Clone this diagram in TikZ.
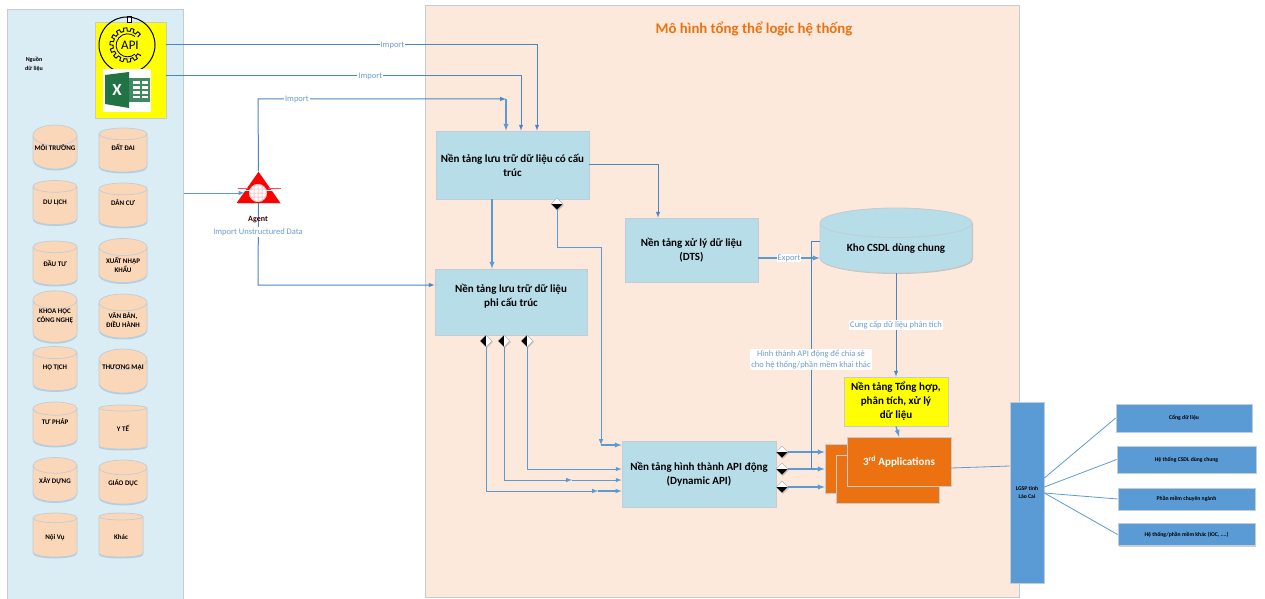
\documentclass[tikz,border=0pt]{standalone}
\usepackage{fontspec}
\setmainfont{Carlito}
\usetikzlibrary{arrows,shapes,shadows}
\newcommand{\lift}[2]{\smash{\raisebox{#1pt}{#2}}}
\definecolor{sourcebg}{HTML}{DAEDF4}
\definecolor{mainbg}{HTML}{FCE9DC}
\definecolor{edgegrey}{HTML}{C3CCD2}
\definecolor{cyan1}{HTML}{B7DDE8}
\definecolor{peach}{HTML}{FBD7BA}
\definecolor{wire}{HTML}{4A86C5}
\definecolor{wirelight}{HTML}{5B9BD5}
\definecolor{labelblue}{HTML}{6C9DD0}
\definecolor{orange1}{HTML}{EC7211}
\definecolor{xlgreen}{HTML}{217346}
\definecolor{hiyellow}{RGB}{255,255,0}
\tikzstyle{every node}=[inner sep=0pt,align=center]
\tikzstyle{shade1}=[drop shadow={shadow xshift=1pt,shadow yshift=-1pt,fill=black,opacity=.18}]
\tikzstyle{panel}=[draw=edgegrey,line width=1pt]
\tikzstyle{box}=[draw=edgegrey,line width=.8pt,fill=cyan1,shade1,font=\fontsize{11}{14}\selectfont\bfseries]
\tikzstyle{dbcyl}=[cylinder,shape border rotate=90,aspect=.5,anchor=shape center,draw=edgegrey,line width=.7pt,fill=peach,
	drop shadow={shadow xshift=0pt,shadow yshift=-1.5pt,fill=wirelight,opacity=.35},
	minimum height=44pt,minimum width=44pt,font=\fontsize{7}{9}\selectfont\bfseries]
\tikzstyle{bluebox}=[draw=edgegrey,line width=.7pt,fill=wirelight,shade1,font=\fontsize{5.7}{8}\selectfont\bfseries]
\tikzstyle{appbox}=[draw=edgegrey,line width=.7pt,fill=orange1,shade1]
\tikzstyle{jointv}=[diamond,draw=black!35,line width=.4pt,fill=white,minimum size=12pt,shade1,
	path picture={\fill[black] (path picture bounding box.west) rectangle (path picture bounding box.south east);}]
\tikzstyle{jointh}=[diamond,draw=black!35,line width=.4pt,fill=white,minimum size=12pt,shade1,
	path picture={\fill[black] (path picture bounding box.north) rectangle (path picture bounding box.south west);}]
\tikzstyle{link}=[draw=wire,line width=1pt]
\tikzstyle{thicklink}=[draw=wirelight,line width=1.3pt]
\tikzstyle{lbl}=[fill=white,inner sep=1pt,text=labelblue,font=\fontsize{8.5}{10.5}\selectfont]

\begin{document}
\begin{tikzpicture}[->,>=latex,x=1pt,y=-1pt]
	\useasboundingbox (0,0) rectangle (1265,599);
	% panels
	\node[panel,fill=sourcebg,minimum width=176pt,minimum height=592pt] (source) at (95,306) {};
	\node[panel,fill=mainbg,minimum width=594pt,minimum height=591pt] (main) at (722,301.5) {};
	\node[text=orange1,font=\fontsize{14.8}{16}\selectfont\bfseries] (title) at (754,29) {Mô hình tổng thể logic hệ thống};
	\node[font=\fontsize{6}{9}\selectfont\bfseries] (sourcetitle) at (34,64) {Nguồn\\dữ liệu};

	% api and excel
	\node[draw=edgegrey,line width=.7pt,fill=hiyellow,shade1,minimum width=71pt,minimum height=96pt] (files) at (130.5,70) {};
	\node[draw=black,fill=white,minimum width=4pt,minimum height=6pt] (apitab) at (129,19) {};
	\node[circle,draw=black,line width=1pt,minimum size=56pt] (apiring) at (127,45) {};
	\draw[-,line width=.9pt] plot[domain=35:325,samples=200] ({127+(15.5+1.6*sign(sin(14*\x)))*cos(\x)},{45+(15.5+1.6*sign(sin(14*\x)))*sin(\x)});
	\draw[-,line width=.8pt] (135,36.5) arc (-50:-310:11.5);
	\node[font=\fontsize{13}{13}\selectfont] (apitext) at (130,45) {API};
	\node[fill=white,minimum width=48pt,minimum height=43pt] (xlsheet) at (127,90.5) {};
	\fill[xlgreen!85] (128,78) rectangle (150,102);
	\foreach \i in {0,1,2,3}{
		\fill[white] (133,{81.5+4.8*\i}) rectangle (139.5,{84+4.8*\i});
		\fill[white] (141.5,{81.5+4.8*\i}) rectangle (147.5,{84+4.8*\i});
	}
	\fill[xlgreen] (105,75) -- (129,72) -- (129,108) -- (105,104) -- cycle;
	\node[text=white,font=\fontsize{17}{17}\selectfont\bfseries] (xlmark) at (117,89.5) {X};

	% data sources
	\node[dbcyl] (env) at (55,147) {\lift{1.6}{MÔI TRƯỜNG}};
	\node[dbcyl] (tour) at (55,202.5) {\lift{1.6}{DU LỊCH}};
	\node[dbcyl] (invest) at (55,263) {\lift{-.4}{ĐẦU TƯ}};
	\node[dbcyl,text depth=10.5pt] (science) at (55,316.5) {KHOA HỌC\\CÔNG NGHỆ};
	\node[dbcyl] (civil) at (55,368.5) {\lift{2.6}{HỘ TỊCH}};
	\node[dbcyl] (justice) at (55,424) {\lift{2.6}{TƯ PHÁP}};
	\node[dbcyl] (build) at (55,479.5) {\lift{.6}{XÂY DỰNG}};
	\node[dbcyl] (interior) at (55,535) {Nội Vụ};
	\node[dbcyl,minimum width=48pt] (land) at (123,150) {\lift{2.6}{ĐẤT ĐAI}};
	\node[dbcyl,minimum width=48pt] (people) at (123,205) {\lift{2.6}{DÂN CƯ}};
	\node[dbcyl,minimum width=48pt] (trade) at (123,260.5) {XUẤT NHẬP\\KHẨU};
	\node[dbcyl,minimum width=48pt] (docs) at (123,316) {VĂN BẢN,\\ĐIỀU HÀNH};
	\node[dbcyl,minimum width=48pt] (commerce) at (123,371) {\lift{6.6}{THƯƠNG MẠI}};
	\node[dbcyl,minimum width=48pt] (health) at (123,427) {Y TẾ};
	\node[dbcyl,minimum width=48pt] (edu) at (123,482) {\lift{.6}{GIÁO DỤC}};
	\node[dbcyl] (other) at (121,535) {Khác};

	% agent
	\node[isosceles triangle,isosceles triangle apex angle=70,shape border rotate=90,fill=red,shade1,minimum height=31pt,minimum width=43pt] (agent) at (258.5,191.5) {};
	\draw[-,draw=white,line width=1pt] (238,190) -- (280,190);
	\draw[-,draw=red!70,line width=.7pt] (238,188.5) -- (248,188.5) (268,188.5) -- (281,188.5);
	\node[circle,fill=white,minimum size=18pt] (globe) at (258,193) {};
	\draw[-,draw=red!35,line width=.5pt] (globe) circle (8.5) (249.5,193) -- (266.5,193) (249.5,189) -- (266.5,189) (250.5,197) -- (265.5,197) (258,184.5) -- (258,201.5) (254,185) -- (254,201) (262,185) -- (262,201);
	\draw[-,draw=red,line width=1pt] (258,207) -- (258,213);

	% platforms
	\node[box,minimum width=153pt,minimum height=68pt] (structured) at (512.5,165) {Nền tảng lưu trữ dữ liệu có cấu\\trúc};
	\node[box,minimum width=152pt,minimum height=66pt] (unstructured) at (511,302) {Nền tảng lưu trữ dữ liệu\\phi cấu trúc\\~};
	\node[box,minimum width=133pt,minimum height=64pt] (dts) at (691.5,250) {Nền tảng xử lý dữ liệu\\(DTS)};
	\node[box,cylinder,shape border rotate=90,aspect=.3,anchor=shape center,minimum width=152pt,minimum height=65pt] (warehouse) at (896,240.5) {Kho CSDL dùng chung};
	\node[box,fill=hiyellow,minimum width=104pt,minimum height=49pt] (analytics) at (896,401.5) {Nền tảng Tổng hợp,\\phân tích, xử lý\\dữ liệu};
	\node[box,minimum width=154pt,minimum height=66pt] (dynapi) at (699,474) {Nền tảng hình thành API động\\(Dynamic API)};
	\node[appbox,minimum width=104pt,minimum height=49pt] (appback) at (877,468.5) {};
	\node[appbox,minimum width=103pt,minimum height=48pt] (appmid) at (887.5,479) {};
	\node[appbox,text=white,minimum width=104pt,minimum height=49pt,font=\fontsize{11}{14}\selectfont\bfseries] (apps) at (899,461.5) {3\textsuperscript{rd} Applications};

	% right side
	\node[bluebox,minimum width=34pt,minimum height=181pt] (lgsp) at (1027,492.5) {LGSP tỉnh\\Lào Cai};
	\node[bluebox,minimum width=136pt,minimum height=28pt] (gate) at (1184,418) {Cổng dữ liệu};
	\node[bluebox,minimum width=139pt,minimum height=27pt] (shared) at (1186.5,459.5) {Hệ thống CSDL dùng chung};
	\node[bluebox,minimum width=137pt,minimum height=22pt] (domain) at (1186.5,499) {Phần mềm chuyên ngành};
	\node[bluebox,minimum width=137pt,minimum height=22pt] (others) at (1186.5,534.5) {Hệ thống/phần mềm khác (IOC, ....)};

	% joints
	\node[jointv] (jointa) at (557,204) {};
	\node[jointh] (jointb) at (486,341) {};
	\node[jointh] (jointc) at (504,341) {};
	\node[jointh] (jointd) at (527,341) {};
	\node[jointv] (jointe) at (782,452) {};
	\node[jointv] (jointf) at (782,469) {};
	\node[jointv] (jointg) at (782,487) {};
	\coordinate (midb) at (598,491);
	\coordinate (midc) at (572,480);
	\coordinate (mida) at (601,445);

	% imports
	\draw[link] (files.east |- 0,45) -- node[lbl,pos=.61]{Import} (537,45) -- (structured.north -| 537,0);
	\draw[link] (files.east |- 0,76) -- node[lbl,pos=.575]{Import} (521,76) -- (structured.north -| 521,0);
	\draw[link] (agent.north) -- (258,99) -- node[lbl,pos=.157]{Import} (506,99);
	\draw[thicklink] (506,99) -- (structured.north -| 506,0);
	\draw[link,draw=wirelight] (source.east |- 0,193) -- (agent.west |- 0,193);
	\draw[link] (agent.south) -- (258,285) -- (unstructured.west |- 0,285);
	\node[text=black!75!red,font=\fontsize{8}{9}\selectfont\bfseries] (agentname) at (258,219.5) {Agent};
	\node[lbl] (agentnote) at (258,232) {Import Unstructured Data};

	% platform links
	\draw[thicklink] (structured.south -| 492,0) -- (unstructured.north -| 492,0);
	\draw[link] (structured.east |- 0,164) -| (dts.north -| 658,0);
	\draw[thicklink] (dts.east |- 0,258) -- node[lbl]{Export} (warehouse.west |- 0,258);
	\draw[link] (warehouse.south) -- node[lbl]{Cung cấp dữ liệu phân tích} (analytics.north);
	\draw[thicklink] (analytics.south) -- (apps.north);
	\draw[link,draw=wirelight] (jointa.south) -- (557,247) -| (mida);
	\draw[thicklink] (mida) -- (dynapi.west |- mida);
	\draw[link,draw=wirelight] (jointd.south) |- (dynapi.west |- 0,469);
	\draw[link,draw=wirelight] (jointc.south) |- (midc);
	\draw[link,draw=wirelight] (midc) -- (dynapi.west |- midc);
	\draw[link,draw=wirelight] (jointb.south) |- (midb);
	\draw[thicklink,line width=1.1pt] (midb) -- (dynapi.west |- midb);
	\draw[thicklink] (jointe.east) -- (appback.west |- jointe);
	\draw[thicklink] (jointf.east) -- (appback.west |- jointf);
	\draw[thicklink] (jointg.east) -- (appback.west |- jointg);
	\draw[link,-] (811,469) -- node[lbl,pos=.48]{Hình thành API động để chia sẻ\\cho hệ thống/phần mềm khai thác} (811,241) -- (warehouse.west |- 0,241);
	\path[-,draw=wirelight,line width=.8pt]
		(apps.east |- 0,468)	edge	(lgsp.west |- 0,466)
		(lgsp.east |- 0,478)	edge	(gate.west)
		(lgsp.east |- 0,487)	edge	(shared.west)
		(lgsp.east |- 0,493)	edge	(domain.west)
		(lgsp.east |- 0,493)	edge	(others.west);
\end{tikzpicture}
\end{document}
